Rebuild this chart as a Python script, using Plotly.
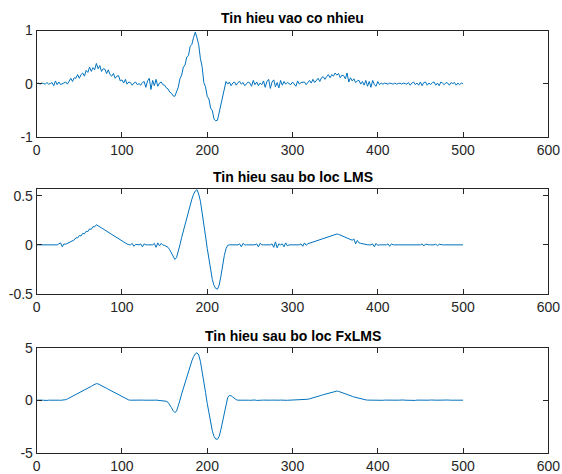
import plotly.graph_objects as go

# sample index (every 2nd sample)
n = list(range(0, 501, 2))

# Tin hieu vao co nhieu (noisy input)
tin_hieu_vao = [
    0.00, 0.01, -0.01, 0.01, 0.00, -0.01, 0.02, -0.01, 0.00, 0.02, -0.04, 0.05, -0.02, 0.03, -0.02, 0.00, 0.01,
    0.03, -0.01, 0.05, 0.10, 0.04, 0.11, 0.10, 0.17, 0.10, 0.17, 0.20, 0.14, 0.25, 0.21, 0.31, 0.23, 0.30, 0.26, 0.38,
    0.28, 0.34, 0.23, 0.28, 0.27, 0.19, 0.26, 0.17, 0.14, 0.19, 0.10, 0.14, 0.15, 0.05, 0.07, 0.01, 0.08, -0.01, 0.03,
    0.02, -0.03, 0.01, 0.03, -0.02, 0.00, -0.03, 0.02, 0.04, -0.07, 0.05, 0.10, -0.11, 0.06, -0.04, 0.08, -0.05, 0.01, 0.03,
    -0.02, -0.03, -0.08, -0.10, -0.16, -0.18, -0.23, -0.24, -0.15, -0.07, 0.09, 0.16,
    0.31, 0.35, 0.50, 0.53, 0.70, 0.74, 0.87, 0.97, 0.86, 0.73, 0.47, 0.32, 0.02, -0.06, -0.24, -0.29, -0.46, -0.51, -0.67, -0.70,
    -0.69, -0.54, -0.41, -0.23, -0.09, 0.04, -0.01, 0.03, -0.04, 0.01, 0.03, -0.03, 0.02,
    0.04, -0.01, 0.02, -0.04, 0.00, 0.03, 0.01, -0.05, 0.06, -0.02, 0.03, -0.04, 0.01, -0.02, 0.05, -0.07, 0.04, 0.08, -0.09,
    0.03, 0.07, -0.06, 0.02, -0.08, 0.06, -0.03, 0.04, -0.01, 0.02, 0.00, -0.02, 0.03, -0.01, -0.05, 0.05, -0.01, 0.02, 0.03,
    0.03, -0.02, 0.03, 0.06, 0.01, 0.08, 0.02, 0.07, 0.10, 0.04, 0.11, 0.13, 0.08, 0.13, 0.17, 0.11, 0.17, 0.14, 0.20, 0.16,
    0.19, 0.11, 0.16, 0.15, 0.09, 0.20, 0.03, 0.11, 0.05, 0.09, 0.02, 0.05, 0.06, -0.01, 0.04, -0.03, 0.06, -0.05, 0.04,
    -0.07, 0.06, -0.02, -0.05, 0.04, -0.02, 0.01, -0.01, 0.01, 0.00, -0.01, 0.01, 0.00, -0.01, 0.01, -0.01, 0.00, 0.01, -0.01,
    0.01, 0.00, -0.01, 0.02, -0.03, 0.01, 0.03, -0.02, 0.01, -0.03, 0.03, -0.04, 0.02, 0.03, -0.03, 0.01, -0.02, 0.02, 0.03,
    -0.03, 0.01, -0.04, 0.03, 0.01, -0.02, 0.02, 0.01, -0.03, 0.02, 0.00, 0.02, -0.03, 0.01, -0.02, 0.01, 0.00,
]

# Tin hieu sau bo loc LMS
sau_lms = [
    0, 0, 0, 0, 0, 0, 0, 0, 0, 0, 0, 0, 0, 0.01, 0.02, -0.02, 0.01,
    0.006, 0.015, 0.025, 0.035, 0.045, 0.05, 0.072, 0.07, 0.095, 0.09, 0.117, 0.112, 0.138, 0.135, 0.162, 0.158, 0.185, 0.183, 0.205,
    0.194, 0.19, 0.172, 0.166, 0.15, 0.143, 0.128, 0.12, 0.106, 0.097, 0.083, 0.075, 0.061, 0.052, 0.038, 0.03, 0.016, 0.008, 0.003,
    0, 0.015, -0.015, 0.005, 0, 0, 0.01, -0.02, 0.01, 0, 0, 0, 0.005, 0, 0.015, -0.025, 0.02, -0.01, 0.015,
    -0.003, -0.006, -0.013, -0.025, -0.05, -0.088, -0.125, -0.148, -0.13, -0.075, 0.0, 0.075,
    0.143, 0.211, 0.279, 0.347, 0.409, 0.465, 0.515, 0.548, 0.562, 0.516, 0.444, 0.336, 0.216, 0.09, -0.036, -0.156, -0.264, -0.354, -0.414, -0.444,
    -0.45, -0.41, -0.32, -0.21, -0.11, -0.04, -0.005, 0.0, 0.0, 0.0, 0.0, 0.0, 0.0,
    0.01, -0.02, 0.015, 0, 0, 0, 0, 0, 0, 0, 0.01, -0.02, 0.015, 0, 0, 0, 0, 0, 0,
    0.01, -0.025, 0.03, -0.03, 0.01, 0, 0.01, -0.02, 0.02, -0.01, 0, 0, 0, 0, 0, 0, 0, 0.01, -0.015,
    0.02, -0.005, 0.011, 0.017, 0.022, 0.028, 0.034, 0.041, 0.047, 0.053, 0.06, 0.066, 0.072, 0.079, 0.085, 0.091, 0.098, 0.104, 0.109, 0.11,
    0.107, 0.1, 0.093, 0.085, 0.077, 0.07, 0.062, 0.055, 0.047, 0.06, 0.01, 0.045, 0.02, 0.015, 0.01, 0.006, 0.004, 0.001, 0.0,
    0, 0.01, -0.02, 0.015, -0.005, 0, 0, 0, 0, 0, 0.01, -0.015, 0.01,
    0, 0, 0, 0, 0, 0, 0, 0, 0, 0, 0, 0, 0, 0, 0, 0, 0,
    0.01, -0.012, 0.008, 0, 0, 0, 0, 0, 0.008, -0.01, 0.006,
    0, 0, 0, 0, 0, 0, 0, 0, 0, 0, 0, 0, 0, 0,
]

# Tin hieu sau bo loc FxLMS
sau_fxlms = [
    0.0, 0.02, -0.02, 0.01, -0.01, 0.02, -0.02, 0.0, 0.01, -0.01, 0.02, -0.02, 0.01, 0.0, -0.01, 0.01, 0.0,
    0.05, 0.12, 0.2, 0.28, 0.36, 0.45, 0.53, 0.62, 0.7, 0.79, 0.87, 0.96, 1.05, 1.14, 1.23, 1.32, 1.42, 1.52, 1.58,
    1.55, 1.48, 1.4, 1.31, 1.22, 1.13, 1.04, 0.95, 0.86, 0.77, 0.68, 0.59, 0.5, 0.41, 0.32, 0.23, 0.14, 0.06, 0.02,
    0.0, 0.01, -0.01, 0.0, 0.01, -0.01, 0.0, 0.01, 0.0, -0.01, 0.0, 0.01, -0.01, 0.0, 0.0, 0.01, -0.01, 0.0, -0.01,
    -0.02, -0.05, -0.1, -0.2, -0.4, -0.7, -1.0, -1.18, -1.05, -0.6, 0.0, 0.6,
    1.15, 1.7, 2.25, 2.8, 3.3, 3.75, 4.15, 4.42, 4.52, 4.3, 3.7, 2.8, 1.8, 0.75, -0.3, -1.3, -2.2, -2.95, -3.45, -3.7,
    -3.72, -3.45, -2.8, -2.0, -1.1, -0.2, 0.25, 0.45, 0.42, 0.3, 0.15, 0.05, 0.0,
    0.01, -0.01, 0.02, -0.02, 0.01, 0.0, -0.01, 0.01, 0.0, 0.02, -0.02, 0.01, -0.01, 0.0, 0.01, -0.01, 0.02, -0.02, 0.0,
    0.01, -0.01, 0.02, -0.01, 0.0, 0.01, -0.01, 0.0, 0.01, -0.01, 0.0, 0.01, -0.01, 0.0, 0.01, 0.0, -0.01, 0.0, 0.01,
    0.02, 0.05, 0.09, 0.13, 0.17, 0.22, 0.27, 0.32, 0.37, 0.42, 0.47, 0.52, 0.57, 0.62, 0.67, 0.72, 0.77, 0.82, 0.86, 0.87,
    0.84, 0.79, 0.73, 0.67, 0.61, 0.55, 0.49, 0.43, 0.37, 0.31, 0.26, 0.21, 0.16, 0.12, 0.08, 0.05, 0.03, 0.01, 0.0,
    0.01, -0.01, 0.0, 0.02, -0.02, 0.01, 0.0, -0.01, 0.01, 0.0, -0.01, 0.02, -0.01, 0.0, 0.01, -0.01, 0.0, 0.01, -0.02,
    0.02, 0.0, -0.01, 0.01, 0.0, -0.01, 0.02, -0.02, 0.01, 0.0, -0.01, 0.01, 0.0, 0.01, -0.01, 0.0, 0.02, -0.02,
    0.01, 0.0, -0.01, 0.01, 0.0, -0.01, 0.01, 0.02, -0.02, 0.01, 0.0, -0.01, 0.01, 0.0, 0.01, -0.01, 0.0, 0.0,
]

titles = ["Tin hieu vao co nhieu", "Tin hieu sau bo loc LMS", "Tin hieu sau bo loc FxLMS"]
x_ticks = [0, 100, 200, 300, 400, 500, 600]
y_ticks = [[-1, 0, 1], [-0.5, 0, 0.5], [-5, 0, 5]]
y_tick_text = [["-1", "0", "1"], ["-0.5", "0", "0.5"], ["-5", "0", "5"]]
y_ranges = [[-1, 1], [-0.5, 0.565], [-5, 5]]

W, H = 562, 474
x_dom = [36.7 / W, 548.3 / W]
box_px = [(30.5, 136.7), (189.3, 294.0), (347.7, 452.7)]
title_px = [18, 177, 336]

series = [tin_hieu_vao, sau_lms, sau_fxlms]
fig = go.Figure()
font_main = "Liberation Sans, Arial, Helvetica, sans-serif"
axis_col = "#262626"

for i, ys in enumerate(series):
    k = "" if i == 0 else str(i + 1)
    fig.add_trace(go.Scatter(
        x=n, y=ys, mode="lines",
        line=dict(color="#0072BD", width=1),
        xaxis="x" + k, yaxis="y" + k, showlegend=False,
    ))
    top, bot = box_px[i]
    ydom = [1 - bot / H, 1 - top / H]
    common = dict(showline=True, linecolor=axis_col, linewidth=1, mirror="ticks",
                  ticks="inside", ticklen=5, tickcolor=axis_col, tickwidth=1,
                  showgrid=False, zeroline=False, automargin=False,
                  tickfont=dict(family=font_main, size=14, color=axis_col))
    fig.update_layout(**{
        "xaxis" + k: dict(domain=x_dom, range=[0, 600], tickvals=x_ticks,
                          anchor="y" + k, **common),
        "yaxis" + k: dict(domain=ydom, range=y_ranges[i], tickvals=y_ticks[i],
                          ticktext=y_tick_text[i], anchor="x" + k, **common),
    })
    fig.add_annotation(
        text="<b>" + titles[i] + "</b>", xref="paper", yref="paper",
        x=(x_dom[0] + x_dom[1]) / 2, y=1 - title_px[i] / H,
        xanchor="center", yanchor="middle", showarrow=False,
        font=dict(family=font_main, size=14, color="black"),
    )

fig.update_layout(width=W, height=H, margin=dict(l=0, r=0, t=0, b=0),
                  paper_bgcolor="white", plot_bgcolor="white")

fig.write_html("out.html", config={"displayModeBar": False},
               post_script="document.body.style.margin='0';")
